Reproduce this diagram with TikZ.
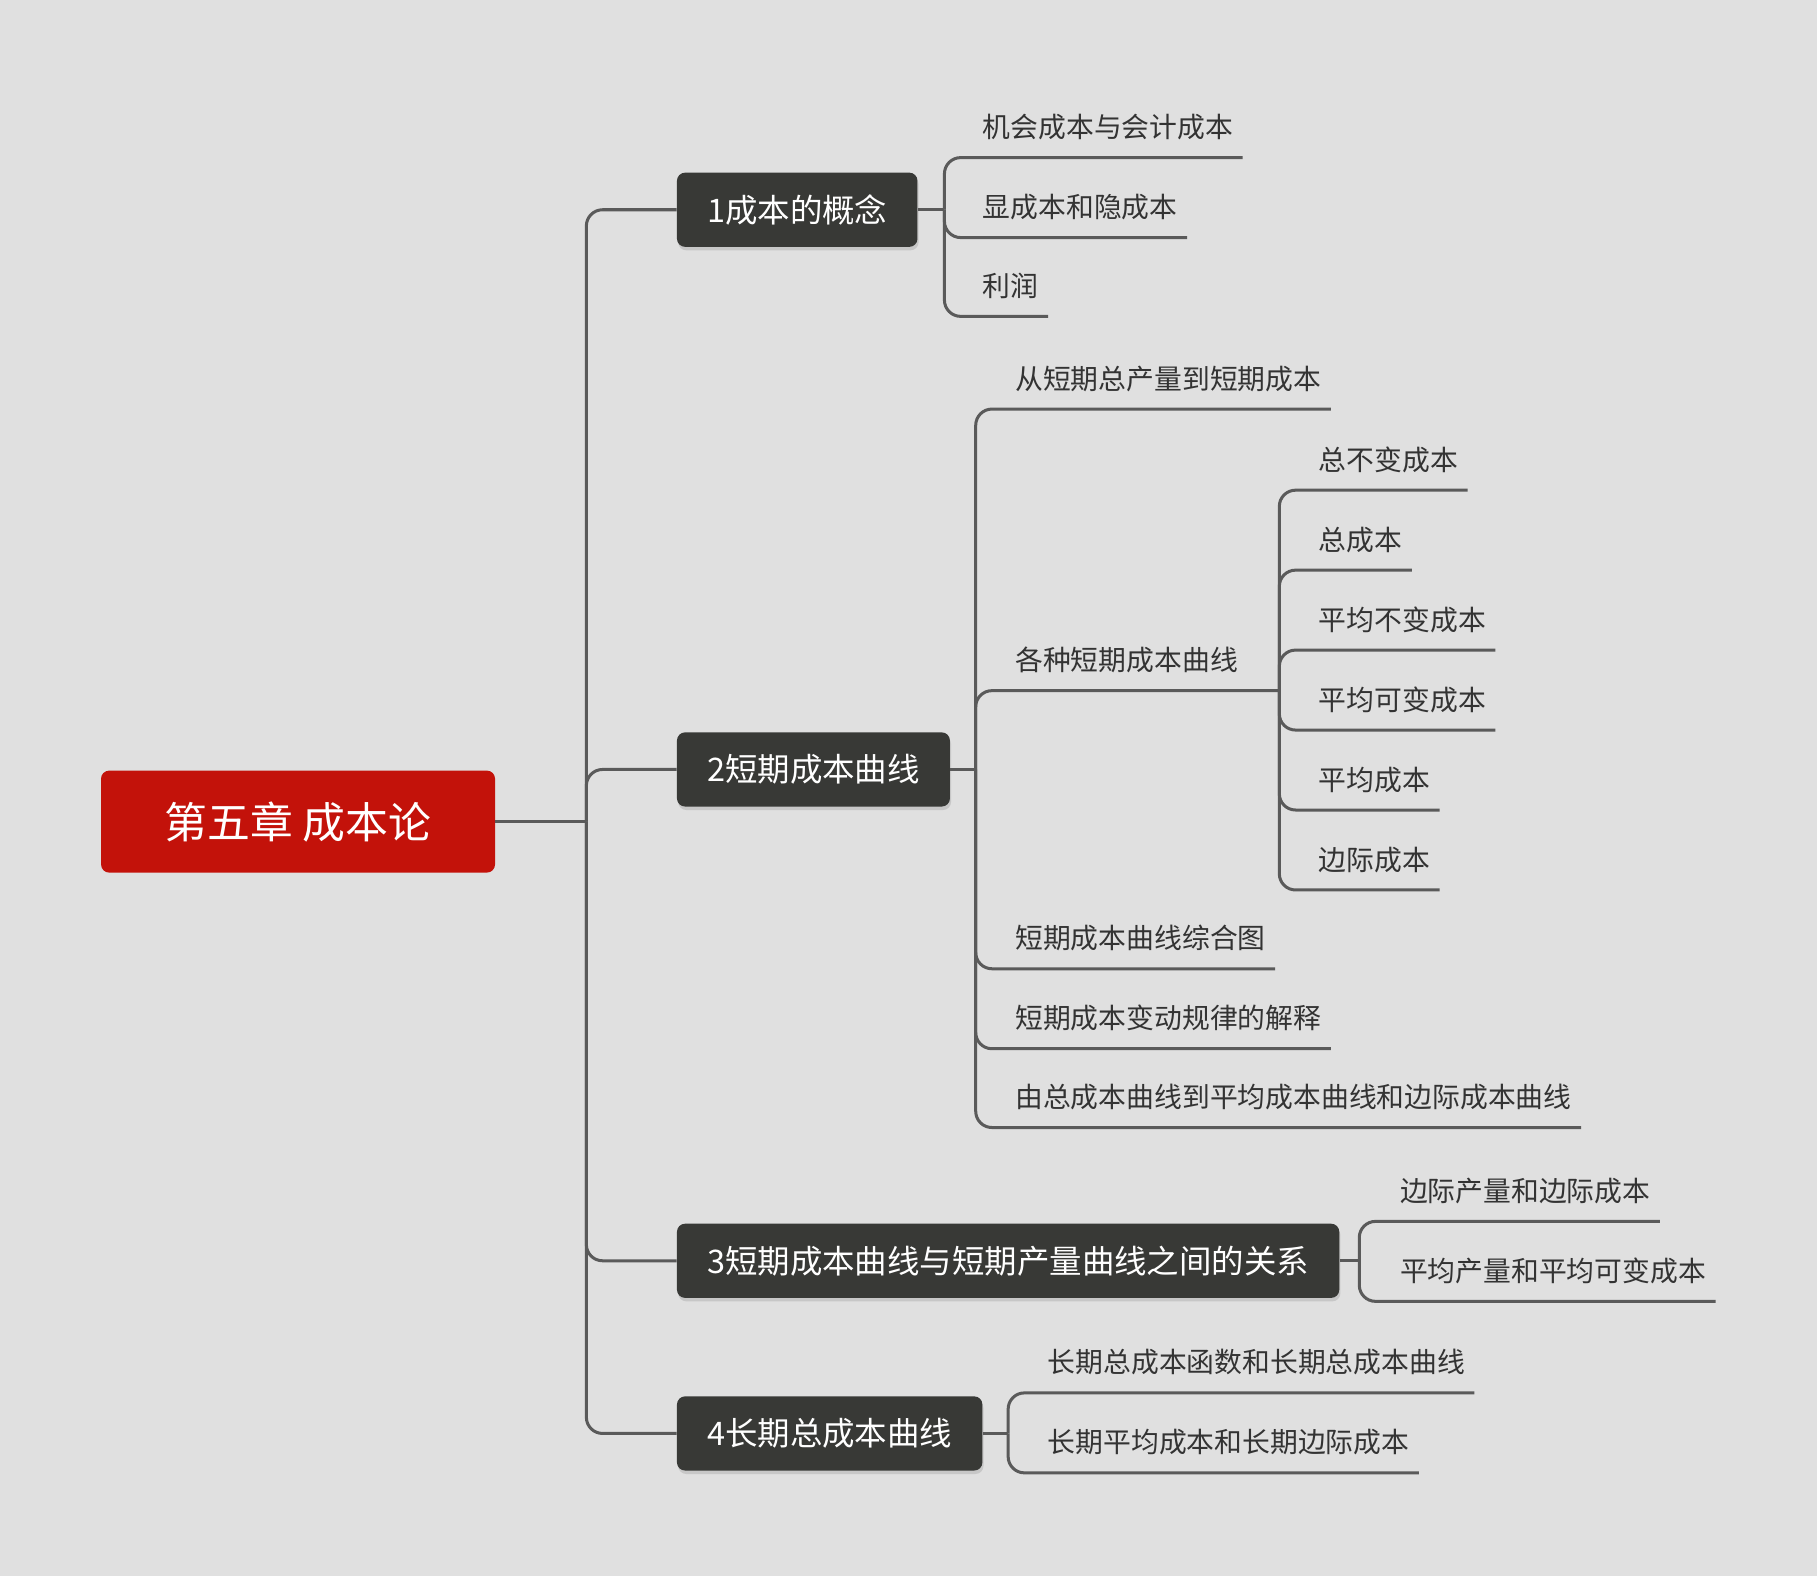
\documentclass[tikz,border=0pt]{standalone}
\usepackage{fontspec}
\setmainfont{Noto Sans CJK SC}
\usetikzlibrary{shadows}
\definecolor{bg}{HTML}{E0E0E0}
\definecolor{ln}{HTML}{5A5A5A}
\definecolor{dk}{HTML}{383936}
\definecolor{rd}{HTML}{C3120A}
\definecolor{tx}{HTML}{333333}
\begin{document}
\begin{tikzpicture}[x=1pt,y=-1pt,
  conn/.style={draw=ln,line width=2.6pt,rounded corners=14pt},
  lvl/.style={fill=dk,rounded corners=7pt,text=white,font=\fontsize{28}{30}\selectfont,
    minimum height=64pt,inner xsep=26pt,anchor=west,
    drop shadow={shadow xshift=1pt,shadow yshift=-3pt,opacity=0.25}},
  leaf/.style={anchor=south west,inner xsep=0pt,inner ysep=17pt,text depth=0pt,
    text=tx,font=\fontsize{24}{26}\selectfont}]
\fill[bg] (0,0) rectangle (1568,1360);
\useasboundingbox (0,0) rectangle (1568,1360);
\node[fill=rd,rounded corners=7pt,text=white,font=\fontsize{37}{40}\selectfont,
  minimum width=340pt,minimum height=88pt,anchor=west] (root) at (87,709) {第五章 成本论};
\node[lvl] (b1) at (584,181) {1成本的概念};
\node[lvl] (b2) at (584,664) {2短期成本曲线};
\node[lvl] (b3) at (584,1088) {3短期成本曲线与短期产量曲线之间的关系};
\node[lvl] (b4) at (584,1237) {4长期总成本曲线};
\coordinate (t) at (506,709);
\draw[conn] (root.east) -- (t);
\foreach \b in {b1,b2,b3,b4} \draw[conn] (t) |- (\b.west);
% branch 1
\coordinate (j1) at (815,181);
\draw[conn] (b1.east) -- (j1);
\node[leaf] (l11) at (848,136) {机会成本与会计成本};
\node[leaf] (l12) at (848,205) {显成本和隐成本};
\node[leaf] (l13) at (848,273) {利润};
\foreach \l in {l11,l12,l13} \draw[conn] (j1) |- (\l.south west) -- ([xshift=8pt]\l.south east);
% branch 2
\coordinate (j2) at (842,664);
\draw[conn] (b2.east) -- (j2);
\node[leaf] (l21) at (876,353) {从短期总产量到短期成本};
\node[leaf] (l22) at (876,596) {各种短期成本曲线};
\node[leaf] (l23) at (876,836) {短期成本曲线综合图};
\node[leaf] (l24) at (876,905) {短期成本变动规律的解释};
\node[leaf] (l25) at (876,973) {由总成本曲线到平均成本曲线和边际成本曲线};
\foreach \l in {l21,l23,l24,l25} \draw[conn] (j2) |- (\l.south west) -- ([xshift=8pt]\l.south east);
\coordinate (j22) at (1104,596);
\draw[conn] (j2) |- (l22.south west) -- (j22);
\node[leaf] (m1) at (1138,423) {总不变成本};
\node[leaf] (m2) at (1138,492) {总成本};
\node[leaf] (m3) at (1138,561) {平均不变成本};
\node[leaf] (m4) at (1138,630) {平均可变成本};
\node[leaf] (m5) at (1138,699) {平均成本};
\node[leaf] (m6) at (1138,768) {边际成本};
\foreach \l in {m1,m2,m3,m4,m5,m6} \draw[conn] (j22) |- (\l.south west) -- ([xshift=8pt]\l.south east);
% branch 3
\coordinate (j3) at (1173,1088);
\draw[conn] (b3.east) -- (j3);
\node[leaf] (l31) at (1208,1054) {边际产量和边际成本};
\node[leaf] (l32) at (1208,1123) {平均产量和平均可变成本};
\foreach \l in {l31,l32} \draw[conn] (j3) |- (\l.south west) -- ([xshift=8pt]\l.south east);
% branch 4
\coordinate (j4) at (870,1237);
\draw[conn] (b4.east) -- (j4);
\node[leaf] (l41) at (904,1202) {长期总成本函数和长期总成本曲线};
\node[leaf] (l42) at (904,1271) {长期平均成本和长期边际成本};
\foreach \l in {l41,l42} \draw[conn] (j4) |- (\l.south west) -- ([xshift=8pt]\l.south east);
\end{tikzpicture}
\end{document}
